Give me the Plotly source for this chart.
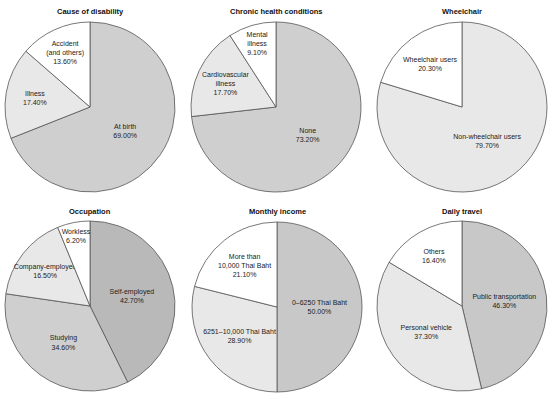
import plotly.graph_objects as go

W, H = 550, 396

titles = ["Cause of disability", "Chronic health conditions", "Wheelchair",
          "Occupation", "Monthly income", "Daily travel"]

labels_1 = ["At birth", "Illness", "Accident<br>(and others)"]
values_1 = [69.0, 17.4, 13.6]
labels_2 = ["None", "Cardiovascular<br>illness", "Mental<br>illness"]
values_2 = [73.2, 17.7, 9.1]
labels_3 = ["Non-wheelchair users", "Wheelchair users"]
values_3 = [79.7, 20.3]
labels_4 = ["Self-employed", "Studying", "Company-employed", "Workless"]
values_4 = [42.7, 34.6, 16.5, 6.2]
labels_5 = ["0–6250 Thai Baht", "6251–10,000 Thai Baht", "More than<br>10,000 Thai Baht"]
values_5 = [50.0, 28.9, 21.1]
labels_6 = ["Public transportation", "Personal vehicle", "Others"]
values_6 = [46.3, 37.3, 16.4]

colors_1 = ["#cfcfcf", "#e8e8e8", "#ffffff"]
colors_2 = ["#cfcfcf", "#e8e8e8", "#ffffff"]
colors_3 = ["#e8e8e8", "#ffffff"]
colors_4 = ["#b9b9b9", "#cfcfcf", "#e8e8e8", "#ffffff"]
colors_5 = ["#c8c8c8", "#e8e8e8", "#ffffff"]
colors_6 = ["#c8c8c8", "#e8e8e8", "#ffffff"]

datasets = [(labels_1, values_1, colors_1), (labels_2, values_2, colors_2),
            (labels_3, values_3, colors_3), (labels_4, values_4, colors_4),
            (labels_5, values_5, colors_5), (labels_6, values_6, colors_6)]

FONT = "Liberation Sans, Arial, Helvetica, sans-serif"

# pixel layout (center x, center y, radius)
centers = [(90, 107), (276, 107), (462, 107), (90, 306), (277, 307), (462, 306)]
R = 85
title_y = [11, 11, 11, 211, 211, 211]

fig = go.Figure()
annotations = []
for i, (labs, vals, cols) in enumerate(datasets):
    cx, cy = centers[i]
    dx = [(cx - R) / W, (cx + R) / W]
    dy = [1 - (cy + R) / H, 1 - (cy - R) / H]
    fig.add_trace(go.Pie(
        labels=labs, values=vals, sort=False, direction="clockwise", rotation=0,
        marker=dict(colors=cols, line=dict(color="#555555", width=0.8)),
        texttemplate="%{label}<br>%{value:.2f}%", textposition="inside",
        insidetextorientation="horizontal",
        textfont=dict(family=FONT, size=7, color="#222222"),
        hoverinfo="label+value", showlegend=False,
        domain=dict(x=dx, y=dy),
    ))
    annotations.append(dict(
        x=cx / W, y=1 - title_y[i] / H, xref="paper", yref="paper",
        text="<b>" + titles[i] + "</b>", showarrow=False,
        font=dict(family=FONT, size=7.5, color="#111111"),
        xanchor="center", yanchor="middle"))

fig.update_layout(width=W, height=H, margin=dict(l=0, r=0, t=0, b=0),
                  paper_bgcolor="white", plot_bgcolor="white",
                  uniformtext=dict(minsize=7, mode="show"),
                  annotations=annotations)
fig.write_html("out.html", config={"displayModeBar": False},
               post_script="document.body.style.margin='0px';")
